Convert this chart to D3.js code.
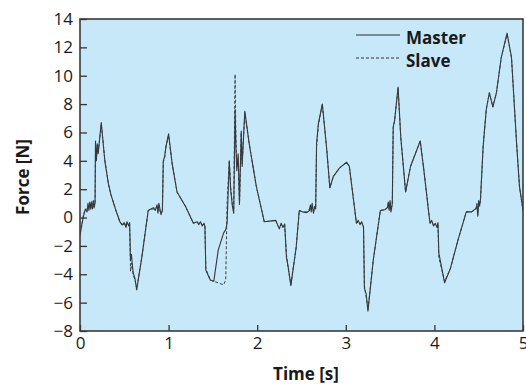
<!DOCTYPE html>
<html>
<head>
<meta charset="utf-8">
<script src="https://cdn.jsdelivr.net/npm/d3@7"></script>
<style>
html,body{margin:0;padding:0;background:#fff;}
svg{display:block;}
text{font-family:"Open Sans","Noto Sans",sans-serif;fill:#1a1a1a;}
</style>
</head>
<body>
<svg id="chart" width="526" height="386"></svg>
<script>
// ---- data ----
const time = [0.00,0.02,0.04,0.06,0.08,0.09,0.10,0.11,0.12,0.13,0.14,0.15,0.16,0.17,0.175,0.185,0.195,0.205,0.24,0.28,0.32,0.35,0.40,0.45,0.48,0.50,0.52,0.53,0.55,0.56,0.57,0.58,0.60,0.62,0.64,0.70,0.77,0.80,0.83,0.85,0.87,0.88,0.89,0.905,0.915,0.93,0.94,0.955,0.97,1.00,1.04,1.095,1.19,1.28,1.32,1.34,1.36,1.38,1.40,1.41,1.42,1.47,1.51,1.56,1.62,1.645,1.66,1.685,1.70,1.72,1.735,1.75,1.76,1.77,1.785,1.80,1.82,1.83,1.86,1.91,1.99,2.08,2.21,2.23,2.25,2.27,2.29,2.31,2.33,2.35,2.38,2.44,2.475,2.51,2.56,2.59,2.60,2.61,2.62,2.635,2.65,2.66,2.67,2.69,2.735,2.785,2.82,2.86,2.93,3.01,3.04,3.12,3.14,3.16,3.18,3.20,3.21,3.23,3.25,3.31,3.39,3.44,3.47,3.48,3.49,3.50,3.51,3.525,3.535,3.55,3.59,3.62,3.675,3.73,3.84,3.88,3.95,3.97,3.99,4.01,4.03,4.04,4.05,4.115,4.18,4.27,4.36,4.42,4.47,4.48,4.49,4.50,4.51,4.52,4.55,4.585,4.62,4.66,4.70,4.755,4.82,4.87,4.925,4.96,5.00];
const master = [-1.3,-0.5,0.1,0.6,0.4,1.0,0.5,1.1,0.7,1.0,0.6,1.2,0.8,1.0,5.4,4.0,5.2,4.5,6.7,4.0,2.4,1.6,0.6,-0.3,-0.5,-0.4,-0.7,-0.3,-0.6,-0.35,-3.0,-2.6,-3.9,-4.3,-5.1,-2.7,0.5,0.6,0.7,0.5,0.9,0.3,1.0,0.5,0.2,0.5,4.0,4.3,5.0,5.9,3.8,1.8,0.8,-0.4,-0.3,-0.5,-0.3,-0.6,-0.4,-0.6,-3.7,-4.4,-4.5,-2.3,-1.1,-0.85,-0.4,4.0,2.0,0.8,0.3,7.6,5.0,3.3,4.5,1.0,6.1,3.6,7.5,5.2,2.2,-0.3,-0.2,-0.5,-0.8,-0.4,-0.7,-0.45,-2.8,-3.5,-4.8,-2.1,0.5,0.4,0.35,0.5,0.9,0.4,1.0,0.3,0.8,0.6,5.2,6.6,8.0,4.8,2.1,2.9,3.5,3.9,3.6,-0.4,-0.2,-0.5,-0.3,-0.7,-5.0,-5.4,-6.6,-3.0,0.5,0.55,0.7,1.1,0.5,1.2,0.4,1.0,6.4,6.8,9.2,5.7,1.8,3.6,5.4,3.4,-0.4,-0.2,-0.6,-0.4,-0.7,-0.35,-2.5,-4.6,-3.6,-1.5,0.4,0.4,0.65,0.9,0.1,1.2,0.8,1.3,5.0,7.6,8.8,7.8,8.8,11.3,13.0,11.3,5.5,2.2,0.5];
const slave = [-1.1,-0.6,0.3,0.5,0.6,0.8,0.7,0.9,0.5,1.2,0.8,1.0,0.6,1.1,5.2,4.2,5.0,4.6,6.6,4.1,2.4,1.6,0.6,-0.3,-0.6,-0.3,-0.6,-0.4,-0.5,-0.4,-3.8,-3.2,-4.0,-4.4,-5.0,-2.7,0.5,0.6,0.6,0.6,0.8,0.4,0.9,0.4,0.3,0.5,3.9,4.2,5.0,5.8,3.8,1.8,0.8,-0.4,-0.3,-0.4,-0.4,-0.5,-0.5,-0.5,-3.6,-4.4,-4.5,-4.6,-4.75,-4.4,1.0,4.0,2.2,0.9,0.5,10.1,5.6,3.6,4.2,0.9,6.0,3.8,7.4,5.2,2.2,-0.3,-0.2,-0.6,-0.7,-0.5,-0.6,-0.5,-2.6,-3.6,-4.7,-2.1,0.5,0.4,0.4,0.6,0.8,0.5,0.9,0.4,0.7,0.6,5.0,6.5,8.0,4.8,2.1,2.9,3.5,3.9,3.6,-0.4,-0.3,-0.4,-0.4,-0.6,-4.8,-5.6,-6.5,-3.0,0.5,0.55,0.7,1.0,0.6,1.1,0.5,1.0,6.3,6.8,9.1,5.7,1.8,3.6,5.4,3.4,-0.4,-0.3,-0.5,-0.5,-0.6,-0.4,-2.8,-4.5,-3.6,-1.5,0.4,0.4,0.6,1.0,0.2,1.1,0.9,1.2,5.0,7.6,8.8,7.8,8.8,11.3,12.9,11.3,5.5,2.2,0.5];
const xTicks = [0,1,2,3,4,5];
const yTicks = [-8,-6,-4,-2,0,2,4,6,8,10,12,14];
const legendLabels = ["Master","Slave"];
const xTitle = "Time [s]";
const yTitle = "Force [N]";

// ---- layout ----
const L = 80, R = 523, T = 19, B = 331;
const svg = d3.select("#chart");
const x = d3.scaleLinear().domain([0,5]).range([L,R]);
const y = d3.scaleLinear().domain([-8,14]).range([B,T]);

svg.append("rect").attr("x",L).attr("y",T).attr("width",R-L).attr("height",B-T)
  .attr("fill","#c7e8f8");

svg.append("clipPath").attr("id","clip").append("rect")
  .attr("x",L).attr("y",T).attr("width",R-L).attr("height",B-T);

const line = d3.line().x((d,i)=>x(time[i])).y(d=>y(d));
const g = svg.append("g").attr("clip-path","url(#clip)");
g.append("path").datum(master).attr("d",line).attr("fill","none")
  .attr("stroke","#33373a").attr("stroke-width",1.1).attr("stroke-linejoin","round");
g.append("path").datum(slave).attr("d",line).attr("fill","none")
  .attr("stroke","#3a3d40").attr("stroke-width",1).attr("stroke-dasharray","3,2");

// axes
const yAxis = d3.axisLeft(y).tickValues(yTicks).tickSize(-7).tickPadding(15)
  .tickFormat(d => d < 0 ? "\u2212" + Math.abs(d) : String(d));
const ya = svg.append("g").attr("transform",`translate(${L},0)`).call(yAxis);
ya.select(".domain").remove();
ya.selectAll(".tick line").attr("stroke","#333").attr("stroke-width",1.3);
ya.selectAll(".tick text").attr("font-size",17).attr("fill","#1a1a1a")
  .attr("font-family","'Open Sans',sans-serif").attr("x",-7);

const xAxis = d3.axisBottom(x).tickValues(xTicks).tickSize(-6).tickPadding(6).tickFormat(d3.format("d"));
const xa = svg.append("g").attr("transform",`translate(0,${B})`).call(xAxis);
xa.select(".domain").remove();
xa.selectAll(".tick line").attr("stroke","#333").attr("stroke-width",1.3);
xa.selectAll(".tick text").attr("font-size",17).attr("fill","#1a1a1a")
  .attr("font-family","'Open Sans',sans-serif").attr("y",6).attr("dy","0.71em");

// frame
svg.append("rect").attr("x",L).attr("y",T).attr("width",R-L).attr("height",B-T)
  .attr("fill","none").attr("stroke","#3a3a3a").attr("stroke-width",1.6);

// titles
svg.append("text").attr("x",306).attr("y",380).attr("text-anchor","middle")
  .attr("font-size",17).attr("font-weight","bold").text(xTitle);
svg.append("text").attr("transform","translate(29,177) rotate(-90)").attr("text-anchor","middle")
  .attr("font-size",17).attr("font-weight","bold").text(yTitle);

// legend
const lg = svg.append("g");
legendLabels.forEach((lab,i)=>{
  const ly = 35 + i*23;
  lg.append("line").attr("x1",356).attr("x2",400).attr("y1",ly).attr("y2",ly)
    .attr("stroke","#2e3133").attr("stroke-width",1)
    .attr("stroke-dasharray", i===1 ? "3,2" : null);
  lg.append("text").attr("x",406).attr("y",ly+9).attr("font-size",17)
    .attr("font-weight","bold").text(lab);
});
</script>
</body>
</html>
